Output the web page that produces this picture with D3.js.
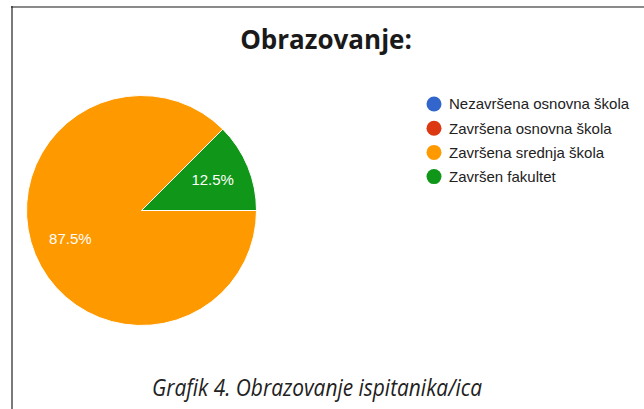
<!DOCTYPE html>
<html>
<head>
<meta charset="utf-8">
<script src="https://cdn.jsdelivr.net/npm/d3@7"></script>
<style>
  body { margin: 0; background: #fff; }
  svg { display: block; }
</style>
</head>
<body>
<div id="chart-area"></div>
<script>
var categories = ["Nezavršena osnovna škola", "Završena osnovna škola", "Završena srednja škola", "Završen fakultet"];
var values = [0, 0, 87.5, 12.5];
var colors = ["#3366cc", "#dc3912", "#ff9900", "#109618"];
var chartTitle = "Obrazovanje:";
var caption = "Grafik 4. Obrazovanje ispitanika/ica";

var width = 644, height = 409;

var svg = d3.select("#chart-area")
    .append("svg")
        .attr("width", width)
        .attr("height", height);

// frame lines
svg.append("line")
    .attr("x1", 11).attr("x2", width)
    .attr("y1", 7).attr("y2", 7)
    .attr("stroke", "#8a8a8a")
    .attr("stroke-width", 2);
svg.append("line")
    .attr("x1", 12).attr("x2", 12)
    .attr("y1", 6).attr("y2", height)
    .attr("stroke", "#222")
    .attr("stroke-width", 1.2);

svg.append("text")
    .attr("x", 326)
    .attr("y", 49)
    .attr("text-anchor", "middle")
    .attr("font-family", "Open Sans, sans-serif")
    .attr("font-weight", "bold")
    .attr("font-size", "26px")
    .attr("fill", "#1a1a1a")
    .text(chartTitle);

var data = categories.map(function(c, i){
    return { name: c, value: values[i], color: colors[i] };
});

var cx = 141.5, cy = 210.5, r = 115;

var pie = d3.pie()
    .sort(null)
    .value(function(d){ return d.value; })
    .startAngle(Math.PI / 2)
    .endAngle(Math.PI / 2 + 2 * Math.PI);

var arc = d3.arc().innerRadius(0).outerRadius(r);
var labelArc = d3.arc().innerRadius(r * 0.67).outerRadius(r * 0.67);

var g = svg.append("g")
    .attr("transform", "translate(" + cx + "," + cy + ")");

var arcs = pie(data).filter(function(d){ return d.data.value > 0; });

g.selectAll("path")
    .data(arcs)
    .enter()
    .append("path")
    .attr("d", arc)
    .attr("fill", function(d){ return d.data.color; })
    .attr("stroke", "#fff")
    .attr("stroke-width", 1);

g.selectAll("text")
    .data(arcs)
    .enter()
    .append("text")
    .attr("transform", function(d){ return "translate(" + labelArc.centroid(d) + ")"; })
    .attr("text-anchor", "middle")
    .attr("dominant-baseline", "middle")
    .attr("font-family", "Liberation Sans, Arial, sans-serif")
    .attr("font-size", "15px")
    .attr("fill", "#fff")
    .text(function(d){ return d.data.value.toFixed(1) + "%"; });

// legend
var legend = svg.append("g")
    .attr("transform", "translate(434,104)");

var items = legend.selectAll("g")
    .data(data)
    .enter()
    .append("g")
    .attr("transform", function(d, i){ return "translate(0," + (i * 24.2) + ")"; });

items.append("circle")
    .attr("r", 7.5)
    .attr("fill", function(d){ return d.color; });

items.append("text")
    .attr("x", 15)
    .attr("dy", "0.36em")
    .attr("font-family", "Liberation Sans, Arial, sans-serif")
    .attr("font-size", "15px")
    .attr("fill", "#222")
    .text(function(d){ return d.name; });

svg.append("text")
    .attr("x", 317)
    .attr("y", 396)
    .attr("text-anchor", "middle")
    .attr("font-family", "Open Sans, sans-serif")
    .attr("font-style", "italic")
    .attr("font-size", "24px")
    .attr("textLength", 330)
    .attr("lengthAdjust", "spacingAndGlyphs")
    .attr("fill", "#222")
    .text(caption);
</script>
</body>
</html>
